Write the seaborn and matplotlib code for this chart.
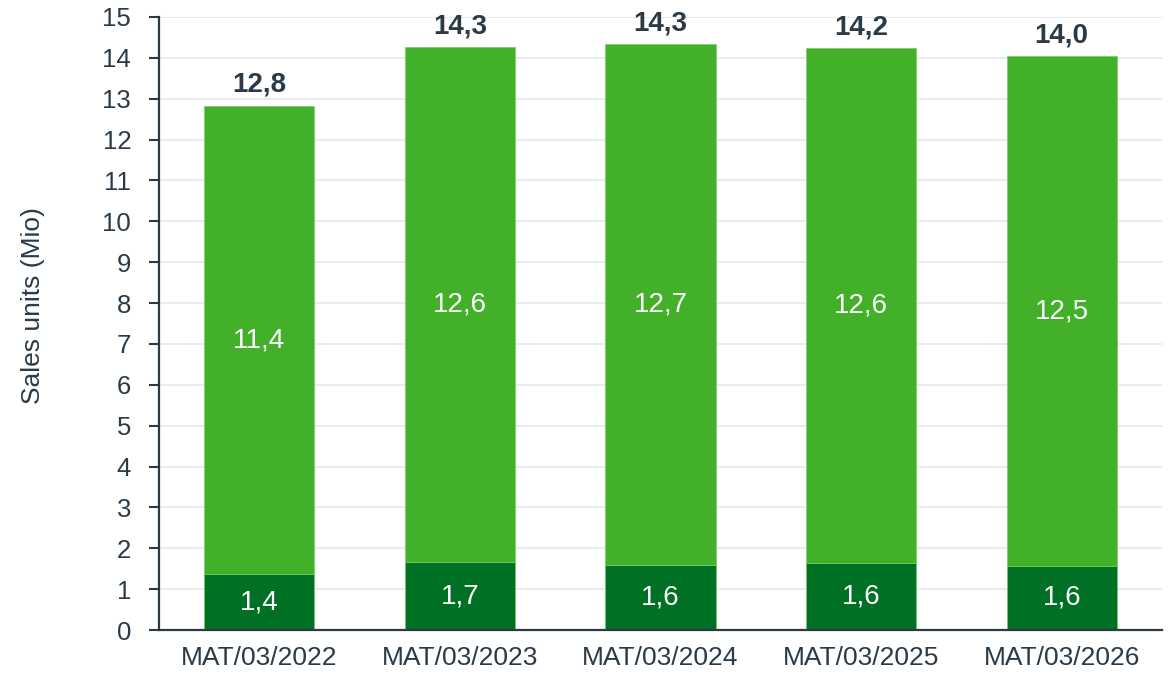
import pandas as pd
import numpy as np
import matplotlib
matplotlib.use('Agg')
import matplotlib.pyplot as plt
import seaborn as sns

# data (Mio units)
periods = ['MAT/03/2022', 'MAT/03/2023', 'MAT/03/2024', 'MAT/03/2025', 'MAT/03/2026']
bottom_part = [1.37, 1.66, 1.59, 1.63, 1.57]
upper_part = [11.45, 12.60, 12.74, 12.60, 12.47]

light_green = '#43b02a'
dark_green = '#007124'
text_col = '#2b3a46'

df = pd.DataFrame({'period': periods, 'bottom': bottom_part, 'upper': upper_part})
df['total'] = df['bottom'] + df['upper']

sns.set_style('white')
plt.rcParams['font.family'] = ['Liberation Sans', 'DejaVu Sans']

fig = plt.figure(figsize=(11.75, 6.75), dpi=100)
ax = fig.add_axes([159 / 1175, 1 - 630 / 675, (1162 - 159) / 1175, (630 - 17) / 675])

# full bar in light green, then the lower segment on top in dark green
sns.barplot(data=df, x='period', y='total', color=light_green, width=0.55,
            saturation=1, edgecolor='#7fcf6a', linewidth=0.6, ax=ax)
sns.barplot(data=df, x='period', y='bottom', color=dark_green, width=0.55,
            saturation=1, edgecolor='#7fcf6a', linewidth=0.6, ax=ax)

ax.set_ylim(0, 15)
ax.set_xlim(-0.5, 4.5)
ax.set_yticks(range(0, 16))
ax.set_axisbelow(True)
ax.yaxis.grid(True, color='#e3e7ef', linewidth=1.2)
ax.xaxis.grid(False)

for s in ['top', 'right']:
    ax.spines[s].set_visible(False)
for s in ['left', 'bottom']:
    ax.spines[s].set_color(text_col)
    ax.spines[s].set_linewidth(1.6)

ax.tick_params(axis='y', which='major', left=True, length=7, width=1.5,
               color=text_col, labelsize=18.5, labelcolor=text_col, pad=13)
ax.tick_params(axis='x', bottom=False, labelsize=19, labelcolor=text_col, pad=8)

ax.set_xlabel('')
ax.set_ylabel('Sales units (Mio)', fontsize=19, color=text_col, va='center')
ax.yaxis.set_label_coords(-0.1256, 0.529)

def fmt(v):
    return f'{v:.1f}'.replace('.', ',')

for i, row in df.iterrows():
    ax.text(i, row['bottom'] / 2, fmt(row['bottom']), ha='center', va='center',
            color='white', fontsize=20)
    ax.text(i, row['bottom'] + row['upper'] / 2, fmt(row['upper']), ha='center',
            va='center', color='white', fontsize=20)
    ax.text(i, row['total'] + 0.2, fmt(row['total']), ha='center', va='bottom',
            color=text_col, fontsize=20, fontweight='bold')

fig.savefig('out.png', dpi=100)
